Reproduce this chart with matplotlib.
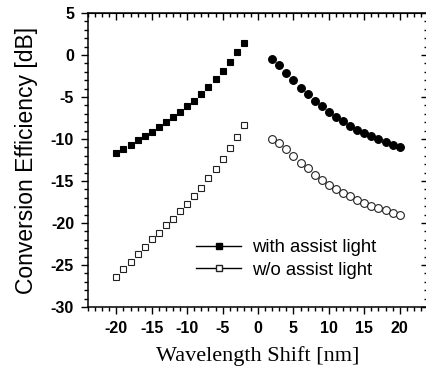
import matplotlib
matplotlib.use("Agg")
import matplotlib.pyplot as plt
from matplotlib.lines import Line2D
from matplotlib.ticker import MultipleLocator

plt.rcParams['font.family'] = ['Liberation Sans', 'DejaVu Sans']
plt.rcParams['axes.unicode_minus'] = False

# wavelength shift (nm)
shift_neg = list(range(-20, -1))
shift_pos = list(range(2, 21))

# conversion efficiency (dB)
with_neg = [-11.7, -11.14, -10.7, -10.16, -9.64, -9.13, -8.58, -8.03, -7.44, -6.8,
            -6.13, -5.42, -4.67, -3.85, -2.9, -1.91, -0.8, 0.3, 1.48]
with_pos = [-0.45, -1.16, -2.15, -3.02, -3.88, -4.63, -5.42, -6.13, -6.76, -7.36,
            -7.91, -8.42, -8.9, -9.29, -9.68, -10.04, -10.36, -10.67, -10.98]
wo_neg = [-26.41, -25.5, -24.64, -23.69, -22.82, -21.95, -21.16, -20.26, -19.47, -18.6,
          -17.73, -16.78, -15.88, -14.7, -13.55, -12.33, -11.1, -9.76, -8.31]
wo_pos = [-9.96, -10.43, -11.22, -11.97, -12.8, -13.51, -14.26, -14.89, -15.44, -15.95,
          -16.43, -16.83, -17.22, -17.61, -17.93, -18.25, -18.49, -18.76, -19.03]

fig = plt.figure(figsize=(4.26, 3.74), dpi=100)
ax = fig.add_axes([88 / 426, 67 / 374, 340 / 426, 294 / 374])

sq = dict(marker='s', ms=4.6, mew=0.8, ls='none')
ci = dict(marker='o', ms=5.6, mew=0.8, ls='none')
ax.plot(shift_neg, with_neg, mfc='black', mec='black', **sq)
ax.plot(shift_pos, with_pos, mfc='black', mec='black', **ci)
ax.plot(shift_neg, wo_neg, mfc='white', mec='#222222', **sq)
ax.plot(shift_pos, wo_pos, mfc='white', mec='#222222', **ci)

ax.set_xlim(-24, 24)
ax.set_ylim(-30, 5)
ax.xaxis.set_minor_locator(MultipleLocator(1))
ax.yaxis.set_major_locator(MultipleLocator(5))
ax.yaxis.set_minor_locator(MultipleLocator(1))
ax.set_xticks([-20, -15, -10, -5, 0, 5, 10, 15, 20])

for s in ax.spines.values():
    s.set_linewidth(1.1)

ax.tick_params(which='both', direction='out', width=1, top=False, right=False)
ax.tick_params(which='major', length=5, pad=5, labelsize=11.5)
ax.tick_params(which='minor', length=3)
for lab in ax.get_xticklabels() + ax.get_yticklabels():
    lab.set_fontweight('bold')

# mirrored ticks on top and right pointing into the plot
top = ax.secondary_xaxis('top')
top.xaxis.set_major_locator(MultipleLocator(5))
top.xaxis.set_minor_locator(MultipleLocator(1))
top.tick_params(which='both', direction='in', width=1, labeltop=False)
top.tick_params(which='major', length=5)
top.tick_params(which='minor', length=3)
right = ax.secondary_yaxis('right')
right.yaxis.set_major_locator(MultipleLocator(5))
right.yaxis.set_minor_locator(MultipleLocator(1))
right.tick_params(which='both', direction='in', width=1, labelright=False)
right.tick_params(which='major', length=5)
right.tick_params(which='minor', length=3)

ax.set_ylabel('Conversion Efficiency [dB]', fontsize=16.5, labelpad=9)
ax.set_xlabel('Wavelength Shift [nm]', fontsize=16, family='Liberation Serif', labelpad=7)

handles = [
    Line2D([], [], color='black', lw=1, marker='s', ms=4.2, mfc='black', mec='black'),
    Line2D([], [], color='black', lw=1, marker='s', ms=4.2, mfc='white', mec='#222222'),
]
ax.legend(handles, ['with assist light', 'w/o assist light'], loc='lower left',
          bbox_to_anchor=(0.27, 0.04), frameon=False, fontsize=13.3,
          handlelength=2.4, handletextpad=0.6, labelspacing=0.3)

fig.savefig('out.png', dpi=100)
